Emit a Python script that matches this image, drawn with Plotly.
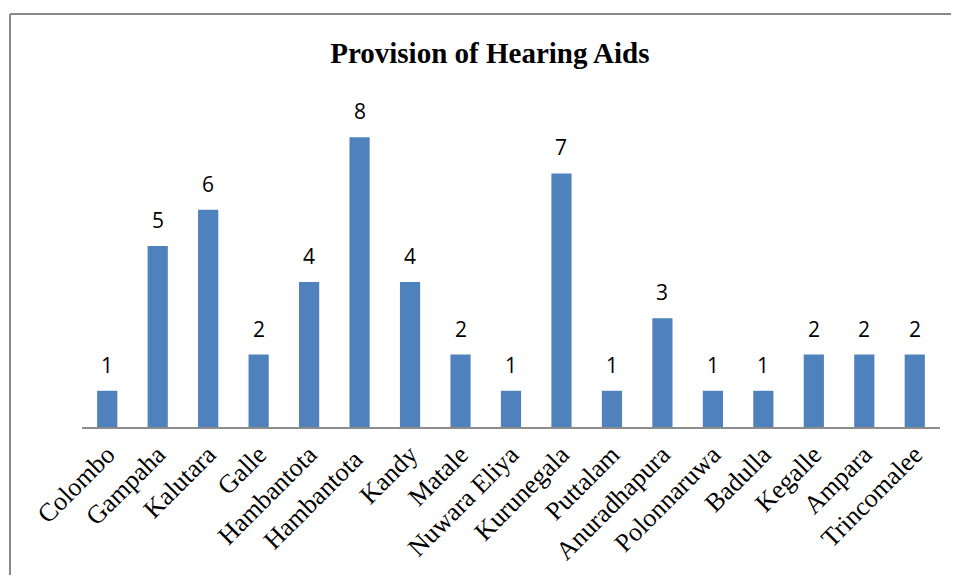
import plotly.graph_objects as go

# Data
districts = ['Colombo', 'Gampaha', 'Kalutara', 'Galle', 'Hambantota', 'Hambantota ',
             'Kandy', 'Matale', 'Nuwara Eliya', 'Kurunegala', 'Puttalam', 'Anuradhapura',
             'Polonnaruwa', 'Badulla', 'Kegalle', 'Ampara', 'Trincomalee']
hearing_aids = [1, 5, 6, 2, 4, 8, 4, 2, 1, 7, 1, 3, 1, 1, 2, 2, 2]

fig = go.Figure(go.Bar(
    x=districts,
    y=hearing_aids,
    marker=dict(color='#4F81BD', line=dict(width=0)),
    cliponaxis=False,
))

# value labels above each bar
for d, v in zip(districts, hearing_aids):
    fig.add_annotation(x=d, y=v, text=str(v), showarrow=False, yanchor='bottom', yshift=10,
                       font=dict(family='Open Sans, Liberation Sans, sans-serif', size=21, color='black'))

# chart frame: only the left and top edges are visible in the reference
frame = dict(color='#898989', width=2)
fig.add_shape(type='line', xref='paper', yref='paper', x0=-0.0839, x1=-0.0839, y0=-0.6, y1=1.2669, line=frame)
fig.add_shape(type='line', xref='paper', yref='paper', x0=-0.0839, x1=1.2, y0=1.2669, y1=1.2669, line=frame)

# figure sized to fit inside the page's 8px body margin (no scrollbars);
# plot area lands at x 82..940, y 101..427 of the window
fig.update_layout(
    width=943, height=567,
    margin=dict(l=74, r=11, t=93, b=148, autoexpand=False),
    paper_bgcolor='white', plot_bgcolor='white',
    bargap=0.6,
    showlegend=False,
    title=dict(text='<b>Provision of Hearing Aids</b>', x=0.511, xanchor='center',
               y=0.9206, yanchor='middle',
               font=dict(family='Liberation Serif, Times New Roman, serif', size=29, color='black')),
    xaxis=dict(
        type='category', tickangle=-45, showgrid=False, ticks='', automargin=False,
        showline=True, linecolor='#8C8C8C', linewidth=2,
        tickfont=dict(family='Liberation Serif, Times New Roman, serif', size=26, color='black'),
    ),
    yaxis=dict(range=[0, 9], visible=False, showgrid=False, zeroline=False),
)

fig.write_html('out.html')
